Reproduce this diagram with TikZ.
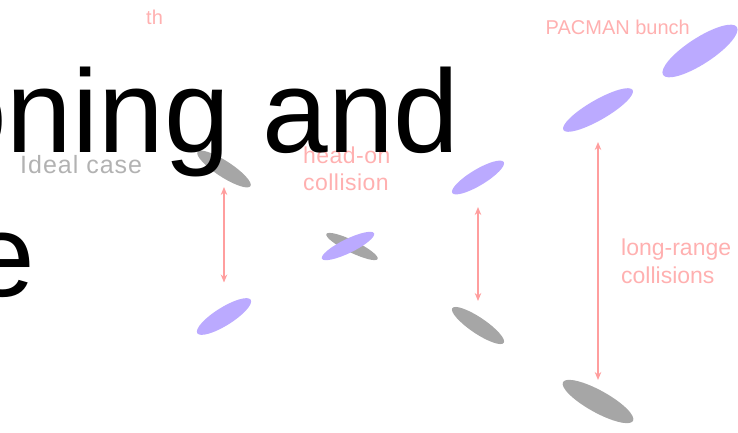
\documentclass[tikz,border=0pt]{standalone}
\usepackage{fontspec}
\setmainfont{Liberation Sans}
\usetikzlibrary{shapes.geometric,arrows.meta}
\definecolor{pinkline}{RGB}{255,158,158}
\definecolor{pinktext}{RGB}{255,176,176}
\definecolor{bunchblue}{RGB}{187,170,255}
\definecolor{bunchgrey}{RGB}{166,166,166}
\definecolor{labelgrey}{RGB}{178,178,178}
\tikzset{
  bunch/.style={ellipse,inner sep=0pt,draw=none},
  sep/.style={draw=pinkline,line width=1.3pt,{Stealth[length=8pt,width=6.5pt]}-{Stealth[length=8pt,width=6.5pt]}},
  note/.style={anchor=base west,inner sep=0pt,text=pinktext,font=\fontsize{23}{27}\selectfont\addfontfeatures{LetterSpace=2}},
  title/.style={anchor=base west,inner sep=0pt,font=\fontsize{118}{140}\selectfont}
}
\begin{document}
\begin{tikzpicture}[x=1pt,y=1pt]
\useasboundingbox (0,0) rectangle (738,432);
\node[bunch,fill=bunchgrey,rotate=-33,minimum width=63pt,minimum height=16pt] (idealtop) at (224,263) {};
\node[bunch,fill=bunchblue,rotate=32,minimum width=63pt,minimum height=18pt] (idealbot) at (224,115.5) {};
\node[bunch,fill=bunchgrey,rotate=-26,minimum width=57pt,minimum height=12pt] (headgrey) at (352,185.5) {};
\node[bunch,fill=bunchblue,rotate=26,minimum width=58pt,minimum height=14pt] (headblue) at (348,186) {};
\node[bunch,fill=bunchblue,rotate=31,minimum width=60pt,minimum height=16pt] (midtop) at (478,254.5) {};
\node[bunch,fill=bunchgrey,rotate=-34,minimum width=62pt,minimum height=16pt] (midbot) at (478,106.5) {};
\node[bunch,fill=bunchblue,rotate=30,minimum width=80pt,minimum height=20pt] (longtop) at (598,322) {};
\node[bunch,fill=bunchblue,rotate=33,minimum width=88pt,minimum height=26pt] (pacman) at (700,381) {};
\node[bunch,fill=bunchgrey,rotate=-29,minimum width=80pt,minimum height=22pt] (longbot) at (598,30.5) {};
\draw[sep] ([yshift=-18pt]idealtop.center) -- ([yshift=34pt]idealbot.center);
\draw[sep] ([yshift=-29.5pt]midtop.center) -- ([yshift=24.5pt]midbot.center);
\draw[sep] ([yshift=-32pt]longtop.center) -- ([yshift=21.5pt]longbot.center);
\node[anchor=base west,inner sep=0pt,text=labelgrey,font=\fontsize{25}{30}\selectfont\addfontfeatures{LetterSpace=4}] (ideal) at (20,259) {Ideal case};
\node[note] (headon) at (303,269) {head-on};
\node[note] (headcoll) at (303,242) {collision};
\node[note,font=\fontsize{23}{27}\selectfont] (longrange) at (621,177) {long-range};
\node[note,font=\fontsize{23}{27}\selectfont] (longcoll) at (621,149) {collisions};
\node[note,font=\fontsize{20}{24}\selectfont] (pacmanlabel) at (545.5,397) {PACMAN bunch};
\node[note,font=\fontsize{20}{24}\selectfont] (cut) at (146,407) {th};
\node[title] (line1) at (-59,280) {oning and};
\node[title] (line2) at (-31,136) {e};
\end{tikzpicture}
\end{document}
